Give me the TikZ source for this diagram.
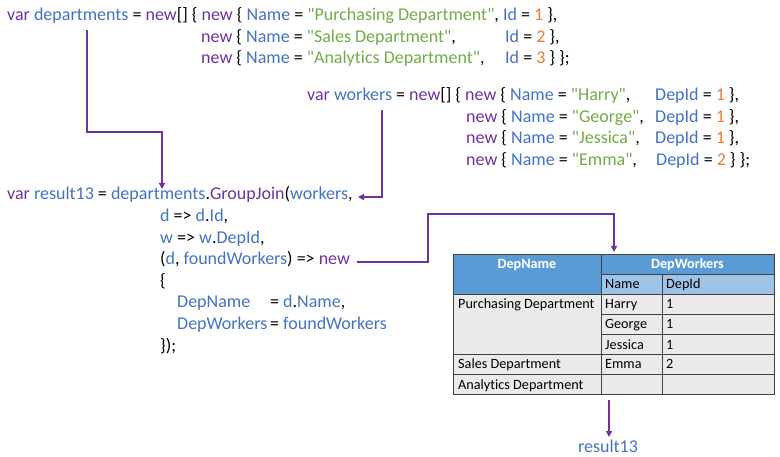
\documentclass[tikz,border=0pt]{standalone}
\usepackage{fontspec}
\setmainfont{Carlito}[Ligatures={NoCommon}]
\usetikzlibrary{arrows.meta}
\definecolor{kwc}{HTML}{7030A0}
\definecolor{idc}{HTML}{4472C4}
\definecolor{strc}{HTML}{70AD47}
\definecolor{numc}{HTML}{ED7D31}
\definecolor{hdark}{HTML}{5B9BD5}
\definecolor{hlight}{HTML}{9DC3E6}
\definecolor{cellg}{HTML}{EAEAEA}
\definecolor{arrc}{HTML}{7030A0}
\newcommand{\ckw}[1]{\textcolor{kwc}{#1}}
\newcommand{\cid}[1]{\textcolor{idc}{#1}}
\newcommand{\cstr}[1]{\textcolor{strc}{\textquotedbl#1\textquotedbl}}
\newcommand{\cnum}[1]{\textcolor{numc}{#1}}
\begin{document}
\begin{tikzpicture}[x=1pt,y=-1pt,
  code/.style={anchor=base west,inner sep=0pt,font=\fontsize{18}{21}\selectfont},
  cell/.style={draw=black!75,line width=0.7pt,anchor=north west,inner sep=0pt,outer sep=0pt},
  ctext/.style={anchor=base west,inner sep=0pt,font=\fontsize{14.2}{16}\selectfont},
  htext/.style={anchor=base,inner sep=0pt,font=\fontsize{14.2}{16}\selectfont\bfseries,text=white},
  conn/.style={draw=arrc,line width=1.7pt,-{Triangle[length=6pt,width=6pt]}}]
\useasboundingbox (0,0) rectangle (780,457);

% departments
\node[code] (d1) at (7,21) {\ckw{var} \cid{departments} = \ckw{new}[] \{ \ckw{new} \{ \cid{Name} = \cstr{Purchasing Department}, \cid{Id} = \cnum{1} \},};
\node[code] (d2) at (201,42.5) {\ckw{new} \{ \cid{Name} = \cstr{Sales Department},};
\node[code] (d2b) at (505,42.5) {\cid{Id} = \cnum{2} \},};
\node[code] (d3) at (201,64) {\ckw{new} \{ \cid{Name} = \cstr{Analytics Department},};
\node[code] (d3b) at (505,64) {\cid{Id} = \cnum{3} \} \};};

% workers
\node[code] (w1) at (307,101) {\ckw{var} \cid{workers} = \ckw{new}[] \{ \ckw{new} \{ \cid{Name} = \cstr{Harry},};
\node[code] (w1b) at (655,101) {\cid{DepId} = \cnum{1} \},};
\node[code] (w2) at (466,122.5) {\ckw{new} \{ \cid{Name} = \cstr{George},};
\node[code] (w2b) at (655,122.5) {\cid{DepId} = \cnum{1} \},};
\node[code] (w3) at (466,144) {\ckw{new} \{ \cid{Name} = \cstr{Jessica},};
\node[code] (w3b) at (655,144) {\cid{DepId} = \cnum{1} \},};
\node[code] (w4) at (466,165.5) {\ckw{new} \{ \cid{Name} = \cstr{Emma},};
\node[code] (w4b) at (656,165.5) {\cid{DepId} = \cnum{2} \} \};};

% result13
\node[code] (r1) at (7,200) {\ckw{var} \cid{result13} = \cid{departments}.\ckw{GroupJoin}(\cid{workers},};
\node[code] (r2) at (160,221.6) {\cid{d} => \cid{d}.\cid{Id},};
\node[code] (r3) at (160,243.2) {\cid{w} => \cid{w}.\cid{DepId},};
\node[code] (r4) at (160,264.8) {(\cid{d}, \cid{foundWorkers}) => \ckw{new}};
\node[code] (r5) at (160,286.4) {\{};
\node[code] (r6) at (177,308) {\cid{DepName}};
\node[code] (r6b) at (270,308) {= \cid{d}.\cid{Name},};
\node[code] (r7) at (177,329.6) {\cid{DepWorkers}};
\node[code] (r7b) at (270,329.6) {= \cid{foundWorkers}};
\node[code] (r8) at (160,351.2) {\});};

% table
\node[cell,fill=hdark,minimum width=148pt,minimum height=40pt] (tdn) at (453,254) {};
\node[htext] at (527,269) {DepName};
\node[cell,fill=hdark,minimum width=173pt,minimum height=20pt] (tdw) at (601,254) {};
\node[htext] at (687.5,269) {DepWorkers};
\node[cell,fill=hlight,minimum width=61pt,minimum height=20pt] at (601,274) {};
\node[ctext] at (605,289) {Name};
\node[cell,fill=hlight,minimum width=112pt,minimum height=20pt] at (662,274) {};
\node[ctext] at (666,289) {DepId};
\node[cell,fill=cellg,minimum width=148pt,minimum height=60pt] at (453,294) {};
\node[ctext] at (458,309) {Purchasing Department};
\node[cell,fill=cellg,minimum width=148pt,minimum height=20pt] at (453,354) {};
\node[ctext] at (458,369) {Sales Department};
\node[cell,fill=cellg,minimum width=148pt,minimum height=20pt] (tan) at (453,374) {};
\node[ctext] at (458,389) {Analytics Department};
\foreach \yy/\nm/\dd in {294/Harry/1,314/George/1,334/Jessica/1,354/Emma/2,374//} {
  \node[cell,fill=cellg,minimum width=61pt,minimum height=20pt] at (601,\yy) {};
  \node[ctext] at (605,\yy+15) {\nm};
  \node[cell,fill=cellg,minimum width=112pt,minimum height=20pt] at (662,\yy) {};
  \node[ctext] at (666,\yy+15) {\dd};
}
\node[code,anchor=base,text=idc] (res) at (608,452) {result13};

% connectors
\coordinate (a1s) at (87,30);
\coordinate (a1e) at (162,189);
\coordinate (a2s) at (382,110);
\coordinate (a2e) at (358,197);
\coordinate (a3s) at (357,262);
\coordinate (a3m) at (428,214);
\coordinate (a3e) at (614,252);
\coordinate (a4s) at (609,400);
\coordinate (a4e) at (609,437);
\draw[conn] (a1s) -- (a1s |- 0,132) -| (a1e);
\draw[conn] (a2s) |- (a2e);
\draw[conn] (a3s) -| (a3m) -| (a3e);
\draw[conn] (a4s) -- (a4e);
\end{tikzpicture}
\end{document}
